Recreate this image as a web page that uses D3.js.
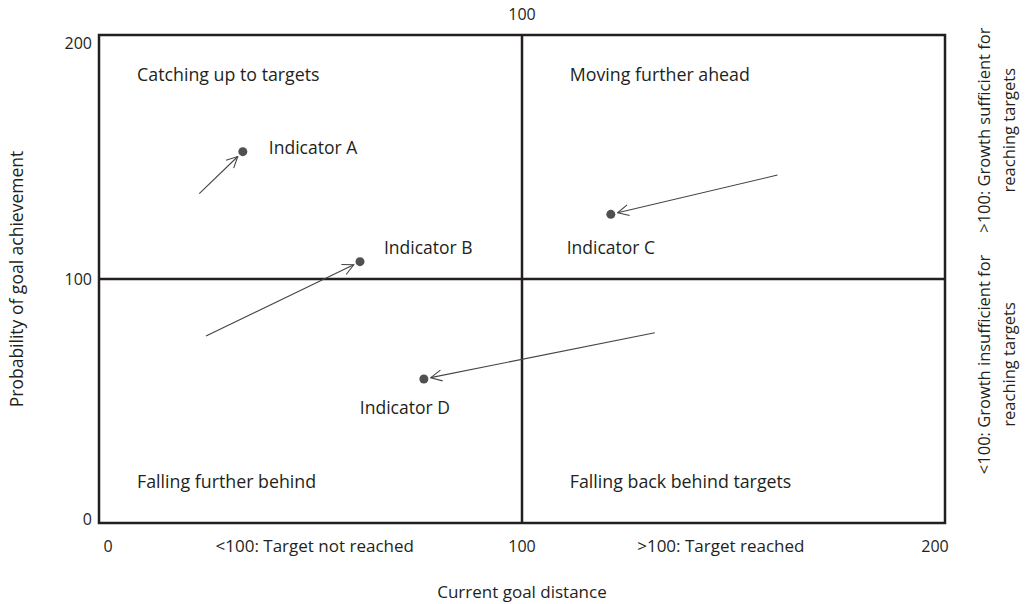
<!DOCTYPE html>
<html>
<head>
<meta charset="utf-8">
<script src="https://cdn.jsdelivr.net/npm/d3@7"></script>
<style>
  body { margin: 0; background: #fff; }
  svg text { font-family: "Open Sans", sans-serif; fill: #231f20; }
</style>
</head>
<body>
<svg id="chart" width="1025" height="604"></svg>
<script>
// data
var indicators = ["Indicator A", "Indicator B", "Indicator C", "Indicator D"];
var startX = [23.7, 25.3, 160.4, 131.4];
var startY = [135.0, 76.6, 142.6, 78.0];
var endX = [34.0, 61.7, 121.0, 76.8];
var endY = [152.2, 107.1, 126.5, 59.0];

var xTicks = [0, 100, 200];
var yTicks = [0, 100, 200];
var quadrantLabels = ["Catching up to targets", "Moving further ahead", "Falling further behind", "Falling back behind targets"];
var xZoneLabels = ["<100: Target not reached", ">100: Target reached"];
var yZoneLabels = [[">100: Growth sufficient for", "reaching targets"], ["<100: Growth insufficient for", "reaching targets"]];

var svg = d3.select("#chart"),
    margin = {top: 35, right: 80, bottom: 81, left: 99},
    width = +svg.attr("width") - margin.left - margin.right,
    height = +svg.attr("height") - margin.top - margin.bottom,
    g = svg.append("g").attr("transform", "translate(" + margin.left + "," + margin.top + ")");

var x = d3.scaleLinear().domain([0, 200]).range([0, width]);
var y = d3.scaleLinear().domain([0, 200]).range([height, 0]);

svg.append("defs").append("marker")
    .attr("id", "head")
    .attr("markerUnits", "userSpaceOnUse")
    .attr("viewBox", "-13 -7 14 14")
    .attr("markerWidth", 14).attr("markerHeight", 14)
    .attr("refX", 0).attr("refY", 0)
    .attr("orient", "auto")
  .append("path")
    .attr("d", "M-11,-5.5L0,0L-11,5.5")
    .attr("fill", "none")
    .attr("stroke", "#444")
    .attr("stroke-width", 1.1);

// frame + quadrant lines
var lineColor = "#231f20";
g.append("rect")
    .attr("width", width).attr("height", height)
    .attr("fill", "none").attr("stroke", lineColor).attr("stroke-width", 2.5);
g.append("line")
    .attr("x1", x(100)).attr("x2", x(100)).attr("y1", 0).attr("y2", height)
    .attr("stroke", lineColor).attr("stroke-width", 2.5);
g.append("line")
    .attr("x1", 0).attr("x2", width).attr("y1", y(100)).attr("y2", y(100))
    .attr("stroke", lineColor).attr("stroke-width", 2.5);

// tick labels
g.selectAll(".ytick").data(yTicks).enter().append("text")
    .attr("x", -7)
    .attr("y", function(d) { return d === 200 ? y(d) + 8 : d === 0 ? y(d) - 4 : y(d); })
    .attr("dy", "0.35em")
    .attr("text-anchor", "end")
    .style("font-size", "16px")
    .text(function(d) { return d; });

g.selectAll(".xtick").data(xTicks).enter().append("text")
    .attr("x", function(d) { return d === 0 ? x(d) + 9 : d === 200 ? x(d) - 10 : x(d); })
    .attr("y", height + 23)
    .attr("dy", "0.35em")
    .attr("text-anchor", "middle")
    .style("font-size", "16px")
    .text(function(d) { return d; });

g.append("text")
    .attr("x", x(100)).attr("y", -21).attr("dy", "0.35em")
    .attr("text-anchor", "middle")
    .style("font-size", "16px")
    .text("100");

// zone labels on x axis
g.selectAll(".xzone").data(xZoneLabels).enter().append("text")
    .attr("x", function(d, i) { return i === 0 ? x(51) : x(147); })
    .attr("y", height + 23).attr("dy", "0.35em")
    .attr("text-anchor", "middle")
    .style("font-size", "17px")
    .text(function(d) { return d; });

// axis titles
g.append("text")
    .attr("x", x(100)).attr("y", height + 69).attr("dy", "0.35em")
    .attr("text-anchor", "middle")
    .style("font-size", "17px")
    .text("Current goal distance");

g.append("text")
    .attr("transform", "translate(" + (-82) + "," + y(100) + ") rotate(-90)")
    .attr("dy", "0.35em")
    .attr("text-anchor", "middle")
    .style("font-size", "17.5px")
    .text("Probability of goal achievement");

// right side zone labels
var rz = g.selectAll(".yzone").data(yZoneLabels).enter().append("g")
    .attr("transform", function(d, i) {
        return "translate(" + (width + 39) + "," + (i === 0 ? y(161) : y(65)) + ") rotate(-90)";
    });
rz.selectAll("text").data(function(d) { return d; }).enter().append("text")
    .attr("y", function(d, j) { return j * 25; })
    .attr("dy", "0.35em")
    .attr("text-anchor", "middle")
    .style("font-size", "16.5px")
    .text(function(d) { return d; });

// quadrant labels
g.selectAll(".quad").data(quadrantLabels).enter().append("text")
    .attr("x", function(d, i) { return i % 2 === 0 ? x(9) : x(111.3); })
    .attr("y", function(d, i) { return i < 2 ? 40 : height - 41; })
    .attr("dy", "0.35em")
    .style("font-size", "17.8px")
    .text(function(d) { return d; });

// arrows
var arrows = indicators.map(function(name, i) {
    var x0 = x(startX[i]), y0 = y(startY[i]), x1 = x(endX[i]), y1 = y(endY[i]);
    var len = Math.hypot(x1 - x0, y1 - y0);
    return {x0: x0, y0: y0, x1: x1 - (x1 - x0) / len * 7, y1: y1 - (y1 - y0) / len * 7};
});
g.selectAll(".arrow").data(arrows).enter().append("line")
    .attr("x1", function(d) { return d.x0; })
    .attr("y1", function(d) { return d.y0; })
    .attr("x2", function(d) { return d.x1; })
    .attr("y2", function(d) { return d.y1; })
    .attr("stroke", "#444")
    .attr("stroke-width", 1.1)
    .attr("marker-end", "url(#head)");

g.selectAll(".dot").data(indicators).enter().append("circle")
    .attr("cx", function(d, i) { return x(endX[i]); })
    .attr("cy", function(d, i) { return y(endY[i]); })
    .attr("r", 4.5)
    .attr("fill", "#505050");

// indicator labels
var lblDx = [26, 24, 0, -19], lblDy = [-4, -14, 34, 29];
g.selectAll(".lbl").data(indicators).enter().append("text")
    .attr("x", function(d, i) { return x(endX[i]) + lblDx[i]; })
    .attr("y", function(d, i) { return y(endY[i]) + lblDy[i]; })
    .attr("dy", "0.35em")
    .attr("text-anchor", function(d, i) { return i < 2 ? "start" : "middle"; })
    .style("font-size", "17.5px")
    .text(function(d) { return d; });
</script>
</body>
</html>
